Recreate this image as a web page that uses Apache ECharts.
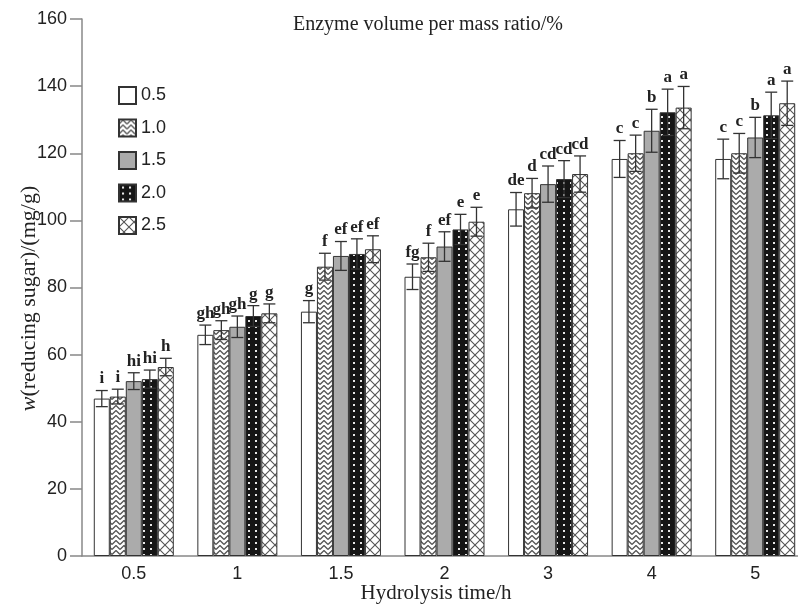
<!DOCTYPE html>
<html>
<head>
<meta charset="utf-8">
<script src="https://cdn.jsdelivr.net/npm/echarts@6/dist/echarts.min.js"></script>
<style>html,body{margin:0;padding:0;background:#fff;}#chart{width:798px;height:604px;}</style>
</head>
<body>
<div id="chart"></div>
<script>
// ---- data ----
var categories = ['0.5', '1', '1.5', '2', '3', '4', '5'];
var seriesNames = ['0.5', '1.0', '1.5', '2.0', '2.5'];
var values_05 = [46.9, 65.9, 72.8, 83.2, 103.3, 118.3, 118.3];
var values_10 = [47.5, 67.3, 86.2, 89.0, 108.1, 120.0, 120.0];
var values_15 = [52.1, 68.3, 89.4, 92.2, 110.8, 126.7, 124.7];
var values_20 = [52.7, 71.5, 90.0, 97.3, 112.3, 132.2, 131.3];
var values_25 = [56.3, 72.3, 91.4, 99.6, 113.8, 133.6, 134.9];
var err_05 = [2.4, 2.9, 3.3, 3.8, 5.0, 5.5, 5.9];
var err_10 = [2.2, 2.8, 4.0, 4.2, 4.4, 5.4, 5.9];
var err_15 = [2.5, 3.2, 4.3, 4.4, 5.4, 6.4, 6.0];
var err_20 = [2.7, 3.1, 4.5, 4.5, 5.5, 6.9, 6.9];
var err_25 = [2.6, 2.8, 4.0, 4.3, 5.4, 6.3, 6.6];
var letters_05 = ['i', 'gh', 'g', 'fg', 'de', 'c', 'c'];
var letters_10 = ['i', 'gh', 'f', 'f', 'd', 'c', 'c'];
var letters_15 = ['hi', 'gh', 'ef', 'ef', 'cd', 'b', 'b'];
var letters_20 = ['hi', 'g', 'ef', 'e', 'cd', 'a', 'a'];
var letters_25 = ['h', 'g', 'ef', 'e', 'cd', 'a', 'a'];
var yTicks = {min: 0, max: 160, interval: 20};

var allValues = [values_05, values_10, values_15, values_20, values_25];
var allErr = [err_05, err_10, err_15, err_20, err_25];
var allLetters = [letters_05, letters_10, letters_15, letters_20, letters_25];

// ---- patterns ----
function mk(w, h, draw) {
  var c = document.createElement('canvas');
  c.width = w; c.height = h;
  var ctx = c.getContext('2d');
  draw(ctx, w, h);
  return {image: c, repeat: 'repeat'};
}
var zigzag = mk(8, 5, function (ctx, w, h) {
  ctx.fillStyle = '#fff'; ctx.fillRect(0, 0, w, h);
  ctx.strokeStyle = '#555'; ctx.lineWidth = 1.3;
  ctx.beginPath();
  ctx.moveTo(0, 4.5); ctx.lineTo(4, 0.5); ctx.lineTo(8, 4.5);
  ctx.stroke();
});
var dots = mk(7, 6, function (ctx, w, h) {
  ctx.fillStyle = '#151515'; ctx.fillRect(0, 0, w, h);
  ctx.fillStyle = '#e8e8e8'; ctx.fillRect(3, 2, 2, 2);
});
var cross = mk(10, 10, function (ctx, w, h) {
  ctx.fillStyle = '#fff'; ctx.fillRect(0, 0, w, h);
  ctx.strokeStyle = '#555'; ctx.lineWidth = 1.1;
  ctx.beginPath();
  ctx.moveTo(-1, -1); ctx.lineTo(11, 11);
  ctx.moveTo(11, -1); ctx.lineTo(-1, 11);
  ctx.stroke();
});
var fills = ['#ffffff', zigzag, '#ababab', dots, cross];

var BAR_W = 16;
var series = [];
for (var k = 0; k < 5; k++) {
  series.push({
    type: 'bar', name: seriesNames[k], data: allValues[k],
    barWidth: BAR_W, barGap: '0%',
    itemStyle: {color: fills[k], borderColor: '#333', borderWidth: 1},
    z: 2
  });
}
for (var k2 = 0; k2 < 5; k2++) {
  (function (k) {
    var d = allValues[k].map(function (v, i) { return [i, v, allErr[k][i]]; });
    series.push({
      type: 'custom', data: d, z: 5,
      encode: {x: 0, y: 1},
      renderItem: function (params, api) {
        var ci = api.value(0), v = api.value(1), e = api.value(2);
        var c = api.coord([ci, v]);
        var x = c[0] + (k - 2) * BAR_W;
        var top = api.coord([ci, v + e])[1];
        var bot = api.coord([ci, v - e])[1];
        var cw = 6;
        var st = {stroke: '#333', lineWidth: 1.3};
        return {type: 'group', children: [
          {type: 'line', shape: {x1: x, y1: top, x2: x, y2: bot}, style: st},
          {type: 'line', shape: {x1: x - cw, y1: top, x2: x + cw, y2: top}, style: st},
          {type: 'line', shape: {x1: x - cw, y1: bot, x2: x + cw, y2: bot}, style: st},
          {type: 'text', style: {text: allLetters[k][params.dataIndex], x: x, y: top - 3,
            textAlign: 'center', textVerticalAlign: 'bottom',
            font: 'bold 17px "Liberation Serif", serif', fill: '#222'}}
        ]};
      }
    });
  })(k2);
}

var chart = echarts.init(document.getElementById('chart'), null, {renderer: 'canvas'});
chart.setOption({
  animation: false,
  backgroundColor: '#fff',
  title: {
    text: 'Enzyme volume per mass ratio/%', left: 288, top: 10,
    textStyle: {fontFamily: '"Liberation Serif", serif', fontSize: 20, fontWeight: 'normal', color: '#222'}
  },
  legend: {
    data: seriesNames, orient: 'vertical', left: 118, top: 86, padding: 0,
    itemWidth: 17, itemHeight: 17, itemGap: 13.5, icon: 'rect',
    textStyle: {fontFamily: '"Liberation Sans", Arial, sans-serif', fontSize: 18, color: '#222'}
  },
  grid: {left: 82, right: -9, top: 19, bottom: 48, outerBoundsMode: 'none', containLabel: false},
  xAxis: {
    type: 'category', data: categories,
    axisTick: {show: false},
    axisLine: {lineStyle: {color: '#888', width: 1.5}},
    axisLabel: {fontFamily: '"Liberation Sans", Arial, sans-serif', fontSize: 18, color: '#222', margin: 9},
    name: 'Hydrolysis time/h', nameLocation: 'middle', nameGap: 27, nameMoveOverlap: false,
    nameTextStyle: {fontFamily: '"Liberation Serif", serif', fontSize: 21, color: '#222', padding: [0, 17, 0, 0]}
  },
  yAxis: {
    type: 'value', min: yTicks.min, max: yTicks.max, interval: yTicks.interval,
    splitLine: {show: false},
    axisLine: {show: true, lineStyle: {color: '#888', width: 1.5}},
    axisTick: {show: true, length: 12, lineStyle: {color: '#888', width: 1.5}},
    axisLabel: {fontFamily: '"Liberation Sans", Arial, sans-serif', fontSize: 18, color: '#222', margin: 15},
    name: '{i|w}(reducing sugar)/(mg/g)', nameLocation: 'middle', nameGap: 42, nameMoveOverlap: false,
    nameTextStyle: {fontFamily: '"Liberation Serif", serif', fontSize: 22, color: '#222', padding: [0, 22, 0, 0],
      rich: {i: {fontFamily: '"Liberation Serif", serif', fontStyle: 'italic', fontSize: 22, color: '#222'}}}
  },
  series: series
});
</script>
</body>
</html>
